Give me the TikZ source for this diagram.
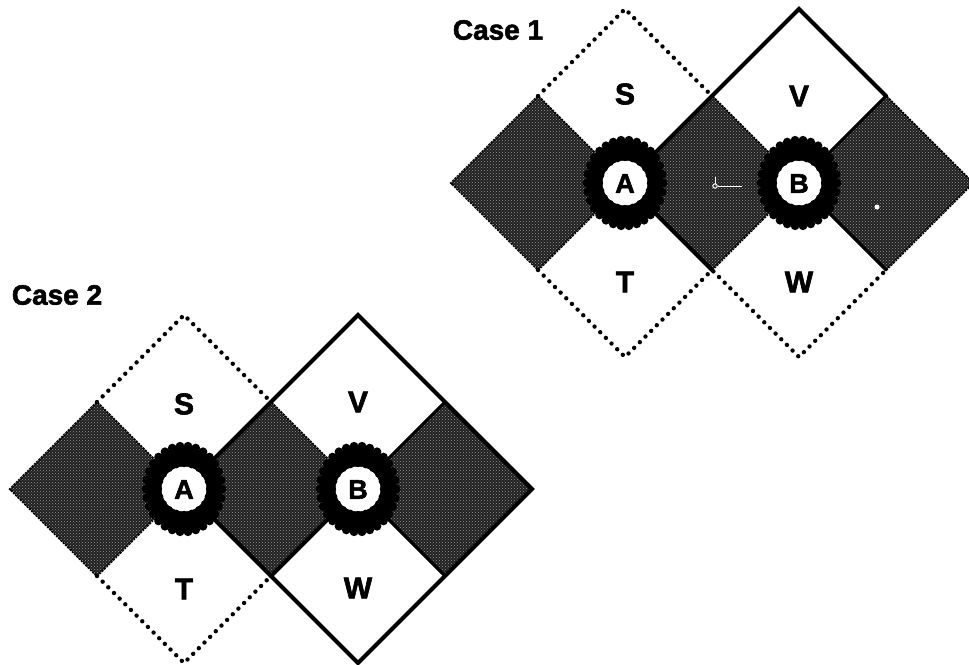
\documentclass[tikz,border=0pt]{standalone}
\usepackage{fontspec}
\setmainfont{Liberation Sans}[BoldFeatures={FakeBold=2}]
\usetikzlibrary{patterns}
\tikzset{
  grayzone/.style={fill=black!88, draw=black, line width=3pt,
    dash pattern=on 0pt off 3.2pt, line cap=round,
    postaction={pattern=crosshatch dots, pattern color=white!60!black}},
  dotline/.style={line width=4.4pt, dash pattern=on 0pt off 8pt, line cap=round},
  solidline/.style={line width=4.2pt, line join=miter, line cap=round},
  edgeline/.style={line width=3pt, line cap=round},
  lbl/.style={font=\fontsize{30}{30}\selectfont\bfseries, inner sep=0pt},
  caselbl/.style={font=\fontsize{28}{28}\selectfont\bfseries, inner sep=0pt},
}
\newcommand\grayset{%
  \draw[grayzone] (-174,0) -- (-87,-87) -- (0,0) -- (-87,87) -- cycle;
  \draw[grayzone] (0,0) -- (87,-87) -- (174,0) -- (87,87) -- cycle;
  \draw[grayzone] (174,0) -- (261,-87) -- (348,0) -- (261,87) -- cycle;
}
\newcommand\ringat[2]{% #1 name, #2 x
  \begin{scope}[shift={(#2,0)}]
    \fill[black] (0,0) ellipse [x radius=38, y radius=43];
    \foreach \t in {0,12,...,348}
      \fill[black] ({38*cos(\t)},{43*sin(\t)}) circle [radius=4.4];
    \fill[white] (0,0) circle [radius=22.5];
    \foreach \t in {0,18,...,342}
      \fill[black] ({25*cos(\t)},{25*sin(\t)}) circle [radius=3.2];
    \node[lbl] (#1) at (0,0.5) {\fontsize{27}{27}\selectfont #1};
  \end{scope}
}
\begin{document}
\begin{tikzpicture}[x=1pt, y=-1pt]
\useasboundingbox (0,0) rectangle (969,664);
\fill[white] (0,0) rectangle (969,664);

% ---------------- Case 1 ----------------
\node[caselbl] (case1) at (498,30) {Case 1};
\begin{scope}[shift={(625,183)}]
  \grayset
  % dotted outlines
  \draw[dotline] (-87,-87) -- (0,-174) -- (87,-87);
  \draw[dotline] (-87,87) -- (0,174) -- (87,87) -- (174,174) -- (261,87);
  % solid outlines
  \draw[solidline] (0,0) -- (87,-87) -- (174,-174) -- (261,-87);
  \draw[solidline] (0,0) -- (87,87);
  \draw[edgeline] (261,-87) -- (174,0) -- (261,87);
  % small white marks
  \draw[white, line width=1pt] (90,3) circle [radius=2.2];
  \draw[white, line width=1pt] (92.5,3) -- (117,3);
  \draw[white, line width=1pt] (90,0.5) -- (90,-6);
  \fill[white] (252,24) circle [radius=2.5];
  % rings
  \ringat{A}{0}
  \ringat{B}{174}
  % letters
  \node[lbl] (S1) at (0,-89) {S};
  \node[lbl] (T1) at (0,99) {T};
  \node[lbl] (V1) at (174,-87) {V};
  \node[lbl] (W1) at (174,99) {W};
\end{scope}

% ---------------- Case 2 ----------------
\node[caselbl] (case2) at (57,295) {Case 2};
\begin{scope}[shift={(184,489)}]
  \grayset
  \draw[dotline] (-87,-87) -- (0,-174) -- (87,-87);
  \draw[dotline] (-87,87) -- (0,174) -- (87,87);
  \draw[solidline] (87,-87) -- (174,-174) -- (348,0) -- (174,174) -- (87,87) -- (0,0) -- cycle;
  \draw[solidline] (87,87) -- (174,0);
  \draw[edgeline] (261,-87) -- (174,0) -- (261,87);
  \ringat{A}{0}
  \ringat{B}{174}
  \node[lbl] (S2) at (0,-85) {S};
  \node[lbl] (T2) at (0,100) {T};
  \node[lbl] (V2) at (174,-87) {V};
  \node[lbl] (W2) at (174,99) {W};
\end{scope}
\end{tikzpicture}
\end{document}
